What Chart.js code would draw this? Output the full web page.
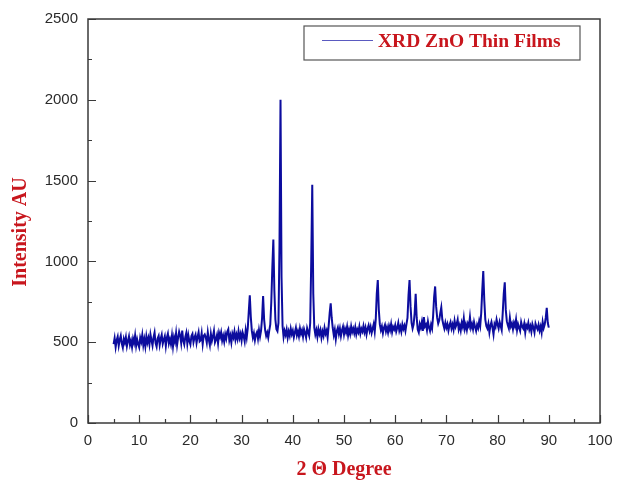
<!DOCTYPE html>
<html>
<head>
<meta charset="utf-8">
<script src="https://cdn.jsdelivr.net/npm/chart.js@4"></script>
<style>
  html, body { margin: 0; padding: 0; background: #fff; }
  canvas { display: block; }
</style>
</head>
<body>
<canvas id="myChart" width="623" height="483"></canvas>
<script>
// 2-theta scan: starts at 5 deg, one reading every 0.2 deg, up to 90 deg
const thetaStart = 5;
const thetaStep = 0.2;

// intensity readings, one row per degree (d.0, d.2, d.4, d.6, d.8)
const intensity = [
  488, 525, 470, 512, 534,   // 5
  478, 515, 540, 492, 466,   // 6
  520, 497, 531, 475, 508,   // 7
  536, 484, 509, 470, 522,   // 8
  495, 541, 478, 517, 488,   // 9
  468, 528, 503, 545, 481,   // 10
  519, 474, 537, 497, 526,   // 11
  486, 548, 512, 479, 530,   // 12
  560, 494, 472, 523, 539,   // 13
  483, 521, 546, 490, 515,   // 14
  537, 476, 528, 552, 493,   // 15
  519, 488, 541, 474, 530,   // 16
  502, 555, 483, 528, 565,   // 17
  540, 495, 572, 510, 486,   // 18
  531, 558, 491, 543, 507,   // 19
  486, 538, 552, 500, 529,   // 20
  547, 495, 533, 562, 505,   // 21
  512, 556, 488, 539, 548,   // 22
  530, 497, 561, 515, 482,   // 23
  551, 508, 536, 570, 499,   // 24
  517, 545, 494, 558, 533,   // 25
  562, 510, 539, 503, 549,   // 26
  522, 565, 580, 512, 540,   // 27
  498, 553, 530, 566, 515,   // 28
  547, 519, 568, 526, 552,   // 29
  510, 560, 538, 505, 573,   // 30
  530, 585, 690, 790, 655,   // 31
  570, 528, 556, 512, 548,   // 32
  563, 522, 575, 535, 572,   // 33
  650, 785, 640, 575, 540,   // 34
  560, 528, 572, 610, 750,   // 35
  960, 1135, 820, 640, 580,  // 36
  568, 620, 1100, 2000, 900, // 37
  600, 532, 570, 545, 578,   // 38
  528, 566, 540, 584, 550,   // 39
  572, 530, 561, 590, 543,   // 40
  568, 536, 585, 552, 574,   // 41
  534, 580, 557, 528, 586,   // 42
  562, 540, 620, 1000, 1475, // 43
  800, 590, 548, 575, 533,   // 44
  581, 550, 575, 528, 566,   // 45
  540, 588, 553, 572, 530,   // 46
  600, 680, 740, 650, 588,   // 47
  545, 578, 520, 569, 590,   // 48
  551, 585, 538, 574, 596,   // 49
  548, 583, 560, 595, 542,   // 50
  578, 550, 598, 563, 585,   // 51
  556, 592, 548, 579, 561,   // 52
  597, 553, 583, 566, 600,   // 53
  562, 590, 548, 584, 605,   // 54
  570, 596, 558, 585, 612,   // 55
  565, 640, 800, 885, 700,   // 56
  610, 575, 598, 556, 590,   // 57
  608, 567, 592, 560, 600,   // 58
  575, 612, 563, 595, 580,   // 59
  605, 566, 590, 620, 572,   // 60
  596, 565, 610, 582, 603,   // 61
  570, 612, 650, 790, 885,   // 62
  720, 620, 585, 610, 680,   // 63
  800, 650, 578, 560, 612,   // 64
  590, 625, 570, 655, 598,   // 65
  610, 575, 628, 592, 570,   // 66
  608, 585, 660, 780, 845,   // 67
  720, 650, 615, 635, 680,   // 68
  715, 640, 610, 585, 620,   // 69
  590, 612, 572, 605, 625,   // 70
  585, 610, 578, 632, 595,   // 71
  612, 640, 580, 605, 572,   // 72
  620, 595, 648, 583, 610,   // 73
  576, 615, 598, 655, 590,   // 74
  612, 580, 625, 595, 570,   // 75
  608, 588, 630, 600, 680,   // 76
  820, 940, 760, 640, 600,   // 77
  585, 615, 560, 602, 625,   // 78
  590, 548, 612, 595, 640,   // 79
  610, 585, 625, 600, 575,   // 80
  680, 800, 870, 700, 630,   // 81
  605, 585, 650, 598, 615,   // 82
  580, 620, 598, 640, 575,   // 83
  612, 590, 570, 625, 598,   // 84
  585, 615, 560, 605, 590,   // 85
  620, 578, 600, 565, 612,   // 86
  590, 560, 615, 595, 580,   // 87
  608, 572, 598, 560, 625,   // 88
  588, 610, 650, 712, 620,   // 89
  590                        // 90
];

const xTicks = [0, 10, 20, 30, 40, 50, 60, 70, 80, 90, 100];
const yTicks = [0, 500, 1000, 1500, 2000, 2500];

const seriesName = 'XRD ZnO Thin Films';
const yTitle = 'Intensity AU';
const xTitle = '2 Θ Degree';
const lineColor = '#0c0c9e';
const red = '#c8161d';
const serif = '"Liberation Serif", "Times New Roman", serif';
const sans = '"Liberation Sans", Arial, sans-serif';

const points = intensity.map((v, i) => ({
  x: +(thetaStart + i * thetaStep).toFixed(1),
  y: v,
}));

// frame, inward ticks, y title and boxed legend
const framePlugin = {
  id: 'frame',
  afterDraw(chart) {
    const { ctx, chartArea: a, scales } = chart;
    ctx.save();
    ctx.strokeStyle = '#3a3a3a';
    ctx.lineWidth = 1.5;
    ctx.strokeRect(a.left, a.top, a.right - a.left, a.bottom - a.top);

    ctx.lineWidth = 1.2;
    ctx.beginPath();
    for (let v = 0; v <= 100; v += 5) {
      const px = Math.round(scales.x.getPixelForValue(v)) + 0.5;
      const len = v % 10 === 0 ? 8 : 4;
      ctx.moveTo(px, a.bottom);
      ctx.lineTo(px, a.bottom - len);
    }
    for (let v = 0; v <= 2500; v += 250) {
      const py = Math.round(scales.y.getPixelForValue(v)) + 0.5;
      const len = v % 500 === 0 ? 8 : 4;
      ctx.moveTo(a.left, py);
      ctx.lineTo(a.left + len, py);
    }
    ctx.stroke();

    // y axis title, sits a bit below the axis middle in the original
    ctx.fillStyle = red;
    ctx.font = 'bold 20px ' + serif;
    ctx.textAlign = 'center';
    ctx.textBaseline = 'middle';
    ctx.translate(21, 232);
    ctx.rotate(-Math.PI / 2);
    ctx.fillText(yTitle, 0, 0);
    ctx.setTransform(1, 0, 0, 1, 0, 0);

    // legend box
    const bx = 304, by = 26, bw = 276, bh = 34;
    ctx.fillStyle = '#fff';
    ctx.fillRect(bx, by, bw, bh);
    ctx.strokeStyle = '#555';
    ctx.lineWidth = 1.2;
    ctx.strokeRect(bx, by, bw, bh);
    ctx.strokeStyle = '#5a5ac0';
    ctx.lineWidth = 1.2;
    ctx.beginPath();
    ctx.moveTo(322, 40.5);
    ctx.lineTo(373, 40.5);
    ctx.stroke();
    ctx.fillStyle = red;
    ctx.font = 'bold 19.5px ' + serif;
    ctx.textAlign = 'left';
    ctx.fillText(seriesName, 378, 42);
    ctx.restore();
  },
};

new Chart(document.getElementById('myChart'), {
  type: 'line',
  data: {
    datasets: [
      {
        label: seriesName,
        data: points,
        borderColor: lineColor,
        backgroundColor: lineColor,
        borderWidth: 2,
        pointRadius: 0,
        tension: 0,
      },
    ],
  },
  options: {
    responsive: false,
    animation: false,
    devicePixelRatio: 1,
    layout: {
      padding: { top: 17, right: 23, left: 0, bottom: 0 },
    },
    plugins: {
      legend: { display: false },
      tooltip: { enabled: false },
    },
    scales: {
      x: {
        type: 'linear',
        min: 0,
        max: 100,
        afterFit(scale) {
          scale.height = 60;
        },
        afterBuildTicks(scale) {
          scale.ticks = xTicks.map((v) => ({ value: v }));
        },
        grid: { display: false, drawTicks: false },
        border: { display: false },
        ticks: {
          padding: 9,
          color: '#2b2b2b',
          font: { family: sans, size: 15 },
          callback: (v) => String(v),
        },
        title: {
          display: true,
          text: xTitle,
          color: red,
          font: { family: serif, size: 20, weight: 'bold' },
          padding: { top: 0, bottom: 1 },
        },
      },
      y: {
        min: 0,
        max: 2500,
        afterFit(scale) {
          scale.width = 88;
        },
        afterBuildTicks(scale) {
          scale.ticks = yTicks.map((v) => ({ value: v }));
        },
        grid: { display: false, drawTicks: false },
        border: { display: false },
        ticks: {
          padding: 10,
          color: '#2b2b2b',
          font: { family: sans, size: 15 },
          callback: (v) => String(v),
        },
        title: { display: false },
      },
    },
  },
  plugins: [framePlugin],
});
</script>
</body>
</html>
